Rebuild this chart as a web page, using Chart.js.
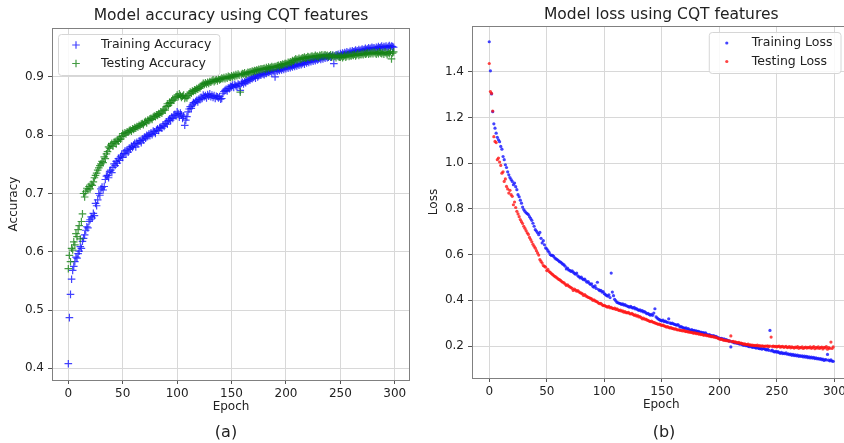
<!DOCTYPE html>
<html>
<head>
<meta charset="utf-8">
<script src="https://cdn.jsdelivr.net/npm/chart.js"></script>
<style>
  html, body { margin: 0; padding: 0; overflow: hidden; background: #fff; }
  body { width: 844px; height: 443px; position: relative; font-family: "DejaVu Sans", sans-serif; }
  canvas { position: absolute; top: 0; }
  #acc { left: 0; }
  #loss { left: 420px; }
  .cap { position: absolute; top: 423px; font-size: 16px; line-height: 18px; color: #222; transform: translateX(-50%); }
</style>
</head>
<body>
<canvas id="acc" width="420" height="443"></canvas>
<canvas id="loss" width="440" height="443"></canvas>
<div class="cap" style="left:226px">(a)</div>
<div class="cap" style="left:664px">(b)</div>
<script>
const xTicks = [0, 50, 100, 150, 200, 250, 300];
const accTicks = [0.4, 0.5, 0.6, 0.7, 0.8, 0.9];
const lossTicks = [0.2, 0.4, 0.6, 0.8, 1.0, 1.2, 1.4];

const trainAcc = [
  0.408, 0.487, 0.527, 0.553, 0.568, 0.575, 0.583, 0.591, 0.589, 0.597,
  0.601, 0.609, 0.606, 0.618, 0.623, 0.629, 0.637, 0.643, 0.641, 0.652,
  0.655, 0.660, 0.658, 0.666, 0.662, 0.683, 0.679, 0.689, 0.700, 0.697,
  0.708, 0.711, 0.706, 0.712, 0.724, 0.730, 0.731, 0.727, 0.738, 0.740,
  0.736, 0.745, 0.751, 0.748, 0.755, 0.752, 0.760, 0.757, 0.763, 0.766,
  0.762, 0.769, 0.773, 0.768, 0.775, 0.771, 0.778, 0.776, 0.781, 0.779,
  0.783, 0.786, 0.780, 0.788, 0.785, 0.790, 0.791, 0.787, 0.794, 0.792,
  0.797, 0.795, 0.800, 0.798, 0.802, 0.799, 0.804, 0.801, 0.807, 0.806,
  0.803, 0.809, 0.811, 0.808, 0.813, 0.814, 0.812, 0.817, 0.815, 0.820,
  0.823, 0.819, 0.825, 0.828, 0.826, 0.831, 0.829, 0.834, 0.836, 0.833,
  0.840, 0.837, 0.831, 0.838, 0.835, 0.829, 0.833, 0.817, 0.826, 0.832,
  0.840, 0.845, 0.849, 0.846, 0.852, 0.856, 0.855, 0.858, 0.860, 0.857,
  0.862, 0.861, 0.865, 0.863, 0.869, 0.866, 0.868, 0.864, 0.870, 0.867,
  0.871, 0.866, 0.869, 0.865, 0.868, 0.863, 0.867, 0.866, 0.864, 0.866,
  0.862, 0.863, 0.872, 0.875, 0.877, 0.879, 0.876, 0.881, 0.880, 0.884,
  0.883, 0.886, 0.882, 0.887, 0.885, 0.884, 0.888, 0.886, 0.877, 0.889,
  0.891, 0.888, 0.892, 0.890, 0.894, 0.893, 0.896, 0.895, 0.898, 0.897,
  0.899, 0.901, 0.898, 0.903, 0.900, 0.902, 0.904, 0.903, 0.906, 0.905,
  0.904, 0.907, 0.906, 0.909, 0.908, 0.909, 0.910, 0.907, 0.911, 0.909,
  0.900, 0.912, 0.910, 0.913, 0.911, 0.914, 0.912, 0.915, 0.913, 0.916,
  0.914, 0.917, 0.915, 0.918, 0.916, 0.919, 0.917, 0.920, 0.918, 0.921,
  0.919, 0.922, 0.920, 0.923, 0.921, 0.923, 0.925, 0.922, 0.926, 0.924,
  0.927, 0.925, 0.928, 0.926, 0.929, 0.927, 0.930, 0.928, 0.931, 0.929,
  0.931, 0.932, 0.930, 0.933, 0.931, 0.934, 0.932, 0.935, 0.933, 0.934,
  0.936, 0.934, 0.935, 0.937, 0.923, 0.936, 0.938, 0.937, 0.939, 0.936,
  0.940, 0.938, 0.941, 0.939, 0.942, 0.940, 0.943, 0.941, 0.942, 0.944,
  0.942, 0.945, 0.943, 0.944, 0.946, 0.944, 0.945, 0.947, 0.945, 0.946,
  0.948, 0.946, 0.947, 0.949, 0.947, 0.948, 0.950, 0.948, 0.949, 0.951,
  0.949, 0.950, 0.948, 0.951, 0.949, 0.952, 0.950, 0.951, 0.953, 0.950,
  0.952, 0.951, 0.953, 0.950, 0.952, 0.954, 0.951, 0.953, 0.952, 0.951
];
const testAcc = [
  0.571, 0.594, 0.583, 0.606, 0.603, 0.617, 0.612, 0.631, 0.626, 0.638,
  0.645, 0.622, 0.652, 0.665, 0.700, 0.694, 0.703, 0.709, 0.706, 0.712,
  0.708, 0.716, 0.714, 0.720, 0.727, 0.731, 0.735, 0.740, 0.744, 0.748,
  0.751, 0.755, 0.753, 0.763, 0.760, 0.768, 0.772, 0.780, 0.778, 0.783,
  0.786, 0.781, 0.788, 0.789, 0.785, 0.792, 0.790, 0.795, 0.793, 0.798,
  0.803, 0.800, 0.804, 0.802, 0.806, 0.805, 0.808, 0.809, 0.807, 0.811,
  0.810, 0.813, 0.812, 0.815, 0.814, 0.817, 0.816, 0.819, 0.820, 0.818,
  0.822, 0.824, 0.821, 0.826, 0.825, 0.828, 0.829, 0.827, 0.831, 0.833,
  0.832, 0.835, 0.834, 0.837, 0.836, 0.840, 0.838, 0.842, 0.845, 0.843,
  0.849, 0.854, 0.851, 0.856, 0.855, 0.859, 0.862, 0.860, 0.864, 0.866,
  0.869, 0.866, 0.871, 0.868, 0.865, 0.867, 0.869, 0.863, 0.866, 0.864,
  0.868, 0.871, 0.874, 0.872, 0.876, 0.875, 0.878, 0.877, 0.880, 0.879,
  0.882, 0.881, 0.884, 0.886, 0.889, 0.887, 0.890, 0.888, 0.891, 0.889,
  0.892, 0.891, 0.893, 0.895, 0.892, 0.894, 0.896, 0.893, 0.897, 0.895,
  0.896, 0.898, 0.897, 0.899, 0.897, 0.900, 0.898, 0.901, 0.900, 0.899,
  0.902, 0.900, 0.903, 0.901, 0.904, 0.902, 0.905, 0.903, 0.874, 0.904,
  0.906, 0.905, 0.907, 0.904, 0.906, 0.908, 0.907, 0.909, 0.908, 0.910,
  0.909, 0.911, 0.910, 0.912, 0.911, 0.913, 0.912, 0.914, 0.913, 0.914,
  0.915, 0.913, 0.916, 0.914, 0.917, 0.915, 0.916, 0.918, 0.916, 0.917,
  0.918, 0.917, 0.919, 0.920, 0.918, 0.921, 0.920, 0.922, 0.921, 0.923,
  0.923, 0.922, 0.925, 0.924, 0.926, 0.925, 0.928, 0.927, 0.929, 0.931,
  0.929, 0.930, 0.932, 0.930, 0.931, 0.933, 0.932, 0.934, 0.932, 0.933,
  0.935, 0.934, 0.933, 0.935, 0.936, 0.934, 0.935, 0.937, 0.935, 0.936,
  0.934, 0.937, 0.936, 0.938, 0.935, 0.937, 0.938, 0.936, 0.937, 0.935,
  0.936, 0.938, 0.934, 0.937, 0.935, 0.936, 0.933, 0.937, 0.935, 0.934,
  0.934, 0.936, 0.933, 0.935, 0.937, 0.934, 0.936, 0.938, 0.935, 0.937,
  0.936, 0.938, 0.937, 0.939, 0.936, 0.938, 0.940, 0.937, 0.939, 0.938,
  0.940, 0.938, 0.941, 0.939, 0.940, 0.942, 0.939, 0.941, 0.940, 0.942,
  0.940, 0.943, 0.941, 0.939, 0.942, 0.940, 0.943, 0.941, 0.940, 0.942,
  0.939, 0.943, 0.941, 0.938, 0.942, 0.940, 0.944, 0.931, 0.941, 0.943
];
const trainLoss = [
  1.531, 1.404, 1.303, 1.225, 1.172, 1.153, 1.131, 1.113, 1.102, 1.094,
  1.073, 1.061, 1.029, 1.015, 0.993, 0.981, 0.962, 0.949, 0.937, 0.928,
  0.920, 0.906, 0.913, 0.897, 0.884, 0.862, 0.853, 0.838, 0.825, 0.808,
  0.797, 0.789, 0.783, 0.779, 0.775, 0.766, 0.758, 0.750, 0.737, 0.724,
  0.709, 0.703, 0.695, 0.687, 0.697, 0.671, 0.651, 0.661, 0.643, 0.629,
  0.625, 0.617, 0.610, 0.600, 0.596, 0.597, 0.592, 0.585, 0.581, 0.578,
  0.574, 0.569, 0.567, 0.563, 0.558, 0.555, 0.549, 0.537, 0.541, 0.533,
  0.531, 0.526, 0.529, 0.523, 0.518, 0.514, 0.519, 0.507, 0.503, 0.498,
  0.501, 0.494, 0.490, 0.493, 0.485, 0.479, 0.482, 0.474, 0.469, 0.472,
  0.461, 0.457, 0.463, 0.452, 0.479, 0.447, 0.442, 0.443, 0.436, 0.438,
  0.429, 0.425, 0.421, 0.418, 0.424, 0.412, 0.519, 0.436, 0.420, 0.404,
  0.398, 0.391, 0.389, 0.387, 0.385, 0.382, 0.384, 0.379, 0.381, 0.376,
  0.375, 0.372, 0.370, 0.373, 0.368, 0.366, 0.369, 0.362, 0.364, 0.359,
  0.356, 0.358, 0.353, 0.355, 0.349, 0.351, 0.346, 0.341, 0.343, 0.338,
  0.335, 0.339, 0.334, 0.344, 0.363, 0.327, 0.322, 0.318, 0.315, 0.312,
  0.310, 0.313, 0.307, 0.309, 0.305, 0.303, 0.319, 0.301, 0.298, 0.300,
  0.297, 0.295, 0.293, 0.291, 0.294, 0.288, 0.283, 0.285, 0.281, 0.279,
  0.277, 0.279, 0.274, 0.276, 0.271, 0.268, 0.272, 0.267, 0.269, 0.265,
  0.266, 0.263, 0.264, 0.260, 0.261, 0.258, 0.259, 0.255, 0.257, 0.252,
  0.247, 0.250, 0.248, 0.245, 0.243, 0.246, 0.241, 0.242, 0.239, 0.236,
  0.235, 0.232, 0.234, 0.229, 0.231, 0.227, 0.228, 0.225, 0.223, 0.221,
  0.196, 0.219, 0.217, 0.214, 0.215, 0.212, 0.213, 0.210, 0.208, 0.210,
  0.206, 0.203, 0.205, 0.201, 0.202, 0.199, 0.197, 0.200, 0.196, 0.194,
  0.196, 0.193, 0.191, 0.194, 0.190, 0.188, 0.190, 0.186, 0.189, 0.188,
  0.185, 0.183, 0.186, 0.181, 0.268, 0.179, 0.182, 0.176, 0.174, 0.177,
  0.173, 0.175, 0.171, 0.168, 0.172, 0.167, 0.169, 0.166, 0.170, 0.164,
  0.166, 0.162, 0.165, 0.159, 0.163, 0.158, 0.161, 0.157, 0.160, 0.155,
  0.158, 0.154, 0.157, 0.152, 0.156, 0.151, 0.155, 0.149, 0.153, 0.148,
  0.151, 0.147, 0.150, 0.145, 0.148, 0.144, 0.146, 0.142, 0.145, 0.140,
  0.143, 0.137, 0.141, 0.139, 0.163, 0.138, 0.135, 0.139, 0.134, 0.133
];
const testLoss = [
  1.436, 1.313, 1.305, 1.228, 1.116, 1.095, 1.090, 1.015, 1.022, 1.005,
  0.990, 0.956, 0.962, 0.920, 0.931, 0.898, 0.887, 0.869, 0.881, 0.862,
  0.855, 0.818, 0.830, 0.806, 0.789, 0.778, 0.766, 0.753, 0.744, 0.736,
  0.724, 0.715, 0.705, 0.695, 0.688, 0.675, 0.666, 0.656, 0.645, 0.636,
  0.628, 0.617, 0.607, 0.598, 0.578, 0.570, 0.563, 0.552, 0.549, 0.545,
  0.530, 0.535, 0.526, 0.522, 0.517, 0.513, 0.508, 0.505, 0.501, 0.497,
  0.493, 0.490, 0.487, 0.482, 0.479, 0.476, 0.471, 0.465, 0.468, 0.462,
  0.459, 0.456, 0.452, 0.443, 0.449, 0.445, 0.440, 0.442, 0.437, 0.433,
  0.431, 0.428, 0.421, 0.425, 0.419, 0.416, 0.413, 0.411, 0.408, 0.406,
  0.400, 0.402, 0.397, 0.395, 0.392, 0.388, 0.385, 0.387, 0.381, 0.377,
  0.378, 0.375, 0.372, 0.370, 0.373, 0.367, 0.369, 0.365, 0.363, 0.366,
  0.360, 0.362, 0.358, 0.355, 0.357, 0.352, 0.354, 0.348, 0.350, 0.346,
  0.345, 0.347, 0.342, 0.340, 0.343, 0.338, 0.334, 0.336, 0.331, 0.333,
  0.327, 0.329, 0.324, 0.319, 0.322, 0.317, 0.318, 0.314, 0.312, 0.309,
  0.307, 0.309, 0.305, 0.303, 0.301, 0.299, 0.297, 0.295, 0.296, 0.292,
  0.290, 0.291, 0.288, 0.286, 0.283, 0.285, 0.281, 0.279, 0.280, 0.277,
  0.276, 0.274, 0.275, 0.272, 0.270, 0.271, 0.268, 0.269, 0.266, 0.268,
  0.265, 0.263, 0.264, 0.261, 0.262, 0.259, 0.260, 0.257, 0.256, 0.258,
  0.254, 0.255, 0.252, 0.253, 0.250, 0.251, 0.248, 0.247, 0.249, 0.245,
  0.246, 0.243, 0.244, 0.241, 0.242, 0.239, 0.240, 0.237, 0.236, 0.233,
  0.231, 0.229, 0.230, 0.227, 0.225, 0.226, 0.223, 0.224, 0.221, 0.222,
  0.244, 0.219, 0.220, 0.217, 0.218, 0.215, 0.214, 0.216, 0.212, 0.213,
  0.210, 0.208, 0.209, 0.207, 0.206, 0.208, 0.204, 0.205, 0.203, 0.204,
  0.202, 0.203, 0.201, 0.204, 0.200, 0.202, 0.199, 0.201, 0.200, 0.198,
  0.200, 0.199, 0.201, 0.197, 0.200, 0.239, 0.198, 0.200, 0.197, 0.199,
  0.196, 0.198, 0.200, 0.195, 0.197, 0.199, 0.194, 0.196, 0.198, 0.193,
  0.195, 0.197, 0.192, 0.196, 0.194, 0.191, 0.195, 0.193, 0.197, 0.190,
  0.194, 0.192, 0.196, 0.189, 0.193, 0.195, 0.191, 0.194, 0.192, 0.196,
  0.190, 0.193, 0.197, 0.188, 0.194, 0.191, 0.196, 0.189, 0.193, 0.195,
  0.187, 0.194, 0.192, 0.197, 0.186, 0.193, 0.190, 0.217, 0.189, 0.196
];

Chart.defaults.font.family = '"DejaVu Sans", sans-serif';
Chart.defaults.color = '#222';

const toPoints = arr => arr.map((v, i) => ({x: i, y: v}));

// matplotlib-ish extras: frame round the plot, title over the plot area, boxed legend inside
const plotExtras = {
  id: 'plotExtras',
  afterDatasetsDraw(chart, args, opts) {
    const {ctx, chartArea: a} = chart;
    ctx.save();
    ctx.strokeStyle = '#808080';
    ctx.lineWidth = 1;
    ctx.strokeRect(Math.round(a.left) + 0.5, Math.round(a.top) + 0.5,
      Math.round(a.right - a.left) - 1, Math.round(a.bottom - a.top));

    ctx.font = '12.5px "DejaVu Sans"';
    const sets = chart.data.datasets;
    const textW = Math.max(...sets.map(d => ctx.measureText(d.label).width));
    const w = 43 + textW + 8, h = 41;
    const x0 = opts.legendSide === 'right' ? a.right - 10 - w : a.left + 6;
    const y0 = a.top + 6;
    ctx.fillStyle = 'rgba(255,255,255,0.85)';
    ctx.strokeStyle = '#d6d6d6';
    ctx.beginPath();
    ctx.roundRect(x0 + 0.5, y0 + 0.5, w, h, 3);
    ctx.fill();
    ctx.stroke();
    sets.forEach((d, i) => {
      const cy = y0 + 11 + i * 18.5;
      const mx = x0 + 18;
      ctx.strokeStyle = d.borderColor;
      ctx.fillStyle = d.backgroundColor;
      if (d.pointStyle === 'cross') {
        const r = d.pointRadius;
        ctx.lineWidth = d.borderWidth;
        ctx.beginPath();
        ctx.moveTo(mx - r, cy); ctx.lineTo(mx + r, cy);
        ctx.moveTo(mx, cy - r); ctx.lineTo(mx, cy + r);
        ctx.stroke();
      } else {
        ctx.beginPath();
        ctx.arc(mx, cy, d.pointRadius, 0, Math.PI * 2);
        ctx.fill();
      }
      ctx.fillStyle = '#222';
      ctx.textAlign = 'left';
      ctx.textBaseline = 'middle';
      ctx.fillText(d.label, x0 + 43, cy);
    });

    ctx.font = '15.5px "DejaVu Sans"';
    ctx.fillStyle = '#222';
    ctx.textAlign = 'center';
    ctx.textBaseline = 'middle';
    ctx.fillText(opts.title, (a.left + a.right) / 2, opts.titleY);
    ctx.restore();
  }
};

function axes(yMin, yMax, yTicks, yTitle, yWidth, xHeight, xTitlePad) {
  const grid = {color: '#d8d8d8', tickColor: '#555', tickLength: 4};
  return {
    x: {
      type: 'linear', min: -15, max: 314,
      afterBuildTicks: s => { s.ticks = xTicks.map(v => ({value: v})); },
      afterFit: s => { s.height = xHeight; },
      grid: grid,
      border: {display: false},
      ticks: {font: {size: 12}, padding: 3, maxRotation: 0},
      title: {display: true, text: 'Epoch', font: {size: 12}, padding: {top: 0, bottom: xTitlePad}}
    },
    y: {
      min: yMin, max: yMax,
      afterBuildTicks: s => { s.ticks = yTicks.map(v => ({value: v})); },
      afterFit: s => { s.width = yWidth; },
      grid: grid,
      border: {display: false},
      ticks: {font: {size: 12}, padding: 4, callback: v => v.toFixed(1)},
      title: {display: true, text: yTitle, font: {size: 12}, padding: {top: 7, bottom: 0}}
    }
  };
}

new Chart(document.getElementById('acc'), {
  type: 'scatter',
  data: {
    datasets: [{
      label: 'Training Accuracy',
      data: toPoints(trainAcc),
      pointStyle: 'cross', pointRadius: 3.8, borderWidth: 1.2,
      borderColor: 'rgba(20,20,255,0.8)', backgroundColor: 'rgba(20,20,255,0.8)',
      order: 1
    }, {
      label: 'Testing Accuracy',
      data: toPoints(testAcc),
      pointStyle: 'cross', pointRadius: 3.8, borderWidth: 1.2,
      borderColor: 'rgba(20,130,20,0.8)', backgroundColor: 'rgba(20,130,20,0.8)',
      order: 0
    }]
  },
  options: {
    responsive: false, animation: false, devicePixelRatio: 1,
    layout: {padding: {left: 0, right: 10, top: 28, bottom: 20}},
    scales: axes(0.380, 0.984, accTicks, 'Accuracy', 52, 43, 9),
    plugins: {
      legend: {display: false}, tooltip: {enabled: false},
      plotExtras: {title: 'Model accuracy using CQT features', titleY: 16, legendSide: 'left'}
    }
  },
  plugins: [plotExtras]
});

new Chart(document.getElementById('loss'), {
  type: 'scatter',
  data: {
    datasets: [{
      label: 'Training Loss',
      data: toPoints(trainLoss),
      pointStyle: 'circle', pointRadius: 1.6, borderWidth: 0,
      borderColor: 'rgba(20,20,255,0.8)', backgroundColor: 'rgba(20,20,255,0.8)',
      order: 1
    }, {
      label: 'Testing Loss',
      data: toPoints(testLoss),
      pointStyle: 'circle', pointRadius: 1.6, borderWidth: 0,
      borderColor: 'rgba(255,20,20,0.8)', backgroundColor: 'rgba(255,20,20,0.8)',
      order: 0
    }]
  },
  options: {
    responsive: false, animation: false, devicePixelRatio: 1,
    layout: {padding: {left: 0, right: 9.5, top: 26, bottom: 20}},
    scales: axes(0.06, 1.60, lossTicks, 'Loss', 52, 45, 11),
    plugins: {
      legend: {display: false}, tooltip: {enabled: false},
      plotExtras: {title: 'Model loss using CQT features', titleY: 15, legendSide: 'right'}
    }
  },
  plugins: [plotExtras]
});
</script>
</body>
</html>
